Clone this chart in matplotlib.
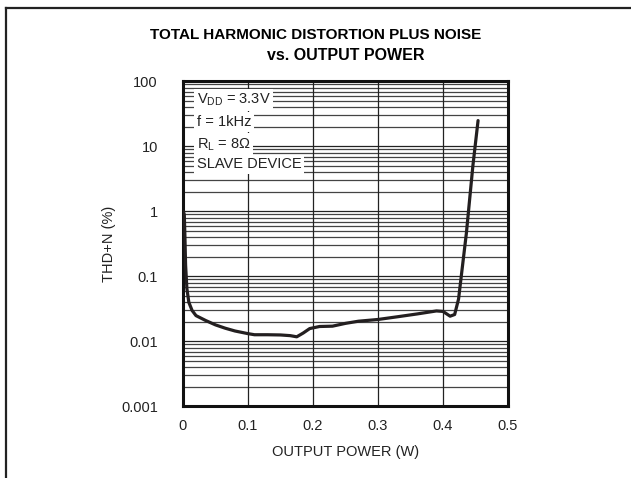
import numpy as np
import matplotlib
matplotlib.use('Agg')
import matplotlib.pyplot as plt
from matplotlib.lines import Line2D

# THD+N vs output power
power_w = [0.0005, 0.002, 0.003, 0.004, 0.006, 0.009, 0.014, 0.02, 0.035, 0.05, 0.065,
           0.08, 0.10, 0.11, 0.13, 0.15, 0.165, 0.175, 0.185, 0.195, 0.21, 0.23,
           0.25, 0.27, 0.30, 0.33, 0.36, 0.39, 0.40, 0.411, 0.418, 0.424, 0.436,
           0.446, 0.454]
thd_pct = [1.0, 0.9, 0.4, 0.15, 0.065, 0.04, 0.03, 0.025, 0.021, 0.018, 0.016,
           0.0145, 0.0132, 0.0127, 0.0127, 0.0126, 0.0123, 0.0118, 0.0135, 0.0158, 0.017, 0.0172,
           0.019, 0.0205, 0.0218, 0.024, 0.0265, 0.0295, 0.029, 0.0245, 0.026, 0.045, 0.46,
           5.0, 25.0]

x_ticks = [0, 0.1, 0.2, 0.3, 0.4, 0.5]
x_labels = ['0', '0.1', '0.2', '0.3', '0.4', '0.5']
y_ticks = [0.001, 0.01, 0.1, 1, 10, 100]
y_labels = ['0.001', '0.01', '0.1', '1', '10', '100']
notes = ['V$_{\\mathrm{DD}}$ = 3.3V', 'f = 1kHz', 'R$_{\\mathrm{L}}$ = 8\u03a9', 'SLAVE DEVICE']

plt.rcParams['font.family'] = ['Liberation Sans', 'DejaVu Sans']
plt.rcParams['mathtext.fontset'] = 'custom'
plt.rcParams['mathtext.rm'] = 'Liberation Sans'
plt.rcParams['mathtext.it'] = 'Liberation Sans:italic'

fs = 10.5
fig = plt.figure(figsize=(6.31, 4.78), dpi=100)
ax = fig.add_axes([0.290, 0.1496, 0.515, 0.680])

ax.set_yscale('log')
ax.set_xlim(0, 0.5)
ax.set_ylim(0.001, 100)

# grid lines
for k in range(-3, 2):
    for m in range(1, 10):
        v = m * 10.0 ** k
        if v <= 0.001:
            continue
        ax.axhline(v, color='#222222' if m == 1 else '#444444', lw=0.9, zorder=1)
for xv in x_ticks[1:-1]:
    ax.axvline(xv, color='#222222', lw=0.9, zorder=1)

ax.plot(power_w, thd_pct, color='#231f20', lw=2.3, zorder=3,
        solid_capstyle='round', solid_joinstyle='round')

ax.set_xticks(x_ticks)
ax.set_xticklabels(x_labels)
ax.set_yticks(y_ticks)
ax.set_yticklabels(y_labels)
ax.yaxis.set_minor_locator(matplotlib.ticker.NullLocator())
ax.tick_params(axis='both', length=0, labelsize=fs, colors='#222222')
ax.tick_params(axis='y', pad=18)
ax.tick_params(axis='x', pad=9)
for sp in ax.spines.values():
    sp.set_linewidth(2.2)
    sp.set_color('#111111')

ax.set_xlabel('OUTPUT POWER (W)', fontsize=fs, color='#222222')
ax.set_ylabel('THD+N (%)', fontsize=fs, color='#222222')
ax.xaxis.set_label_coords(0.5, -0.12)
ax.yaxis.set_label_coords(-0.206, 0.5)

y0 = [(406.5 - 100) / 325, (406.5 - 122) / 325, (406.5 - 144.5) / 325, (406.5 - 164.5) / 325]
for t, yy in zip(notes, y0):
    ax.text(0.042, yy, t, transform=ax.transAxes, fontsize=fs, va='center', ha='left',
            color='#222222', zorder=4, bbox=dict(facecolor='white', edgecolor='none', pad=2.0))

fig.text(316 / 631, 1 - 35 / 478, 'TOTAL HARMONIC DISTORTION PLUS NOISE', ha='center', va='center',
         fontsize=11, fontweight='bold')
fig.text(345.5 / 631, 1 - 56 / 478, 'vs. OUTPUT POWER', ha='center', va='center',
         fontsize=11.5, fontweight='bold')

# page frame lines (left and top)
fig.add_artist(Line2D([6 / 631, 6 / 631], [0, 1 - 8 / 478], transform=fig.transFigure,
                      color='#222222', lw=1.6))
fig.add_artist(Line2D([6 / 631, 1], [1 - 8 / 478, 1 - 8 / 478], transform=fig.transFigure,
                      color='#222222', lw=1.6))

fig.savefig('out.png', dpi=100)
